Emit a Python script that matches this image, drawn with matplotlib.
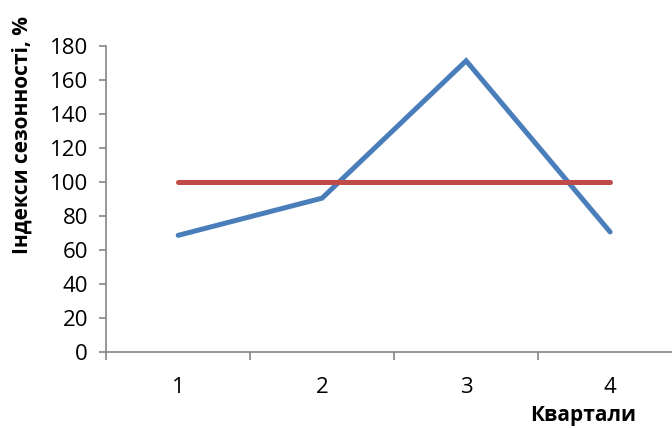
import matplotlib.pyplot as plt

quarters = ["1", "2", "3", "4"]
seasonal_index = [68.6, 90.5, 171.3, 70.6]
baseline = [100, 100, 100, 100]

plt.rcParams["font.family"] = ["Open Sans", "DejaVu Sans"]

fig = plt.figure(figsize=(6.72, 4.28), dpi=100)
ax = fig.add_axes([0.158, 0.1776, 0.857, 0.715])

x = range(1, len(quarters) + 1)
ax.plot(x, seasonal_index, color="#4A7EBB", lw=3.6, solid_capstyle="round", solid_joinstyle="miter")
ax.plot(x, baseline, color="#BE4B48", lw=3.6, solid_capstyle="round")

ax.set_xlim(0.5, 4.5)
ax.set_ylim(0, 180)
ax.set_yticks(range(0, 181, 20))
ax.set_xticks(list(x))
ax.set_xticklabels(quarters)
ax.set_xticks([0.5, 1.5, 2.5, 3.5, 4.5], minor=True)

for s in ["top", "right"]:
    ax.spines[s].set_visible(False)
for s in ["left", "bottom"]:
    ax.spines[s].set_color("#868686")
    ax.spines[s].set_linewidth(1.2)

ax.tick_params(axis="y", length=5, width=1.2, color="#868686", labelsize=16, pad=8)
ax.tick_params(axis="x", which="major", length=0, labelsize=16, pad=18)
ax.tick_params(axis="x", which="minor", length=6, width=1.2, color="#868686", direction="out")

fig.text(0.033, 0.685, "Індекси сезонності, %", rotation=90, ha="center", va="center",
         fontsize=15, fontweight="bold")
fig.text(0.868, 0.03, "Квартали", ha="center", va="center", fontsize=15, fontweight="bold")

fig.savefig("out.png", dpi=100)
